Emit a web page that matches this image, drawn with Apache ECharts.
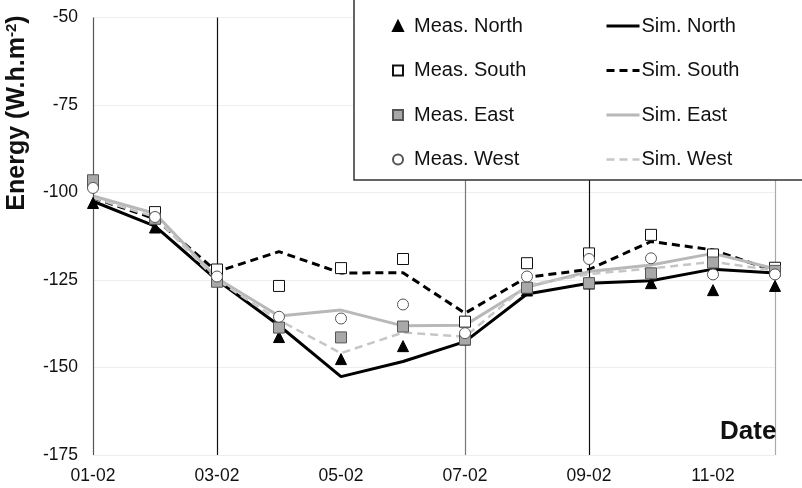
<!DOCTYPE html>
<html><head><meta charset="utf-8">
<script src="https://cdn.jsdelivr.net/npm/echarts@6/dist/echarts.min.js"></script>
<style>html,body{margin:0;padding:0;background:#fff}#c{width:802px;height:488px}</style>
</head><body><div id="c"></div>
<script>
var categories = ['01-02','02-02','03-02','04-02','05-02','06-02','07-02','08-02','09-02','10-02','11-02','12-02'];
var yTicks = [-175, -150, -125, -100, -75, -50];
var measNorth = [-103, -110, -125, -141.3, -147.6, -143.9, -142, -128, -126, -125.9, -127.9, -126.7];
var measSouth = [-97, -105.6, -122, -126.7, -121.6, -119, -136.9, -120.2, -117.4, -112.1, -117.7, -121.5];
var measEast  = [-96.5, -107.5, -125.5, -138.6, -141.4, -138.3, -142, -127.2, -125.9, -123.1, -120, -122.4];
var measWest  = [-98.7, -107, -124, -135.5, -136, -132, -140.2, -124, -119, -118.8, -123.4, -123.4];
var simNorth  = [-102.5, -109.6, -125, -138, -152.6, -148.3, -142.6, -129, -125.9, -125.2, -121.9, -123];
var simSouth  = [-101.5, -107.5, -122.6, -116.9, -123, -122.9, -134.5, -124.2, -122, -114, -116.4, -122.5];
var simEast   = [-101, -106, -124.5, -135.3, -133.6, -138.1, -137.9, -127, -122.6, -120.7, -117.4, -121.8];
var simWest   = [-101.5, -107, -125, -136.5, -145.9, -140, -141.2, -126.5, -123.3, -121.7, -119.8, -122.3];
var vLines = ['01-02','03-02','07-02','09-02','12-02'];
var vLineColors = ['#555','#111','#777','#111','#aaa'];

var font = 'Liberation Sans, Arial, sans-serif';
var chart = echarts.init(document.getElementById('c'), null, {renderer:'canvas'});
function sim(name, data, color, type, width){
  return {name:name, type:'line', data:data, symbol:'none', z:3,
    lineStyle:{color:color, width:width, type:type}, itemStyle:{color:color}};
}
function meas(name, data, symbol, fill, border, size){
  return {name:name, type:'scatter', data:data, symbol:symbol, symbolSize:size, z:5,
    itemStyle:{color:fill, borderColor:border, borderWidth:1, opacity:1}};
}
var option = {
  animation:false,
  backgroundColor:'#fff',
  grid:{left:93, right:27, top:17.5, bottom:33},
  xAxis:{type:'category', data:categories, boundaryGap:false,
    axisLine:{show:false}, axisTick:{show:false},
    axisLabel:{interval:1, color:'#111', fontSize:17.5, fontFamily:font, margin:12},
    splitLine:{show:false}},
  yAxis:{type:'value', min:yTicks[0], max:yTicks[yTicks.length-1], interval:25,
    axisLine:{show:false}, axisTick:{show:false},
    axisLabel:{color:'#111', fontSize:17.5, fontFamily:font, margin:15},
    splitLine:{lineStyle:{color:'#eeeeee', width:1}}},
  legend:[
    {data:['Meas. North','Meas. South','Meas. East','Meas. West'], orient:'vertical',
     left:387, top:10, itemWidth:10, itemHeight:10, itemGap:22.5, z:10,
     textStyle:{fontSize:20, fontFamily:font, color:'#111', lineHeight:22, padding:[0,0,0,6]}},
    {data:[{name:'Sim. North', lineStyle:{width:3}},
           {name:'Sim. South', lineStyle:{width:3}},
           {name:'Sim. East', lineStyle:{width:3}},
           {name:'Sim. West', lineStyle:{width:2.5}}], orient:'vertical',
     left:600, top:10, itemWidth:33, itemHeight:14, itemGap:22.5, z:10,
     itemStyle:{opacity:0},
     textStyle:{fontSize:20, fontFamily:font, color:'#111', lineHeight:22, padding:[0,0,0,-3]}}
  ],
  graphic:[
    {type:'rect', z:8, shape:{x:354, y:-5, width:460, height:185},
     style:{fill:'#fff', stroke:'#333', lineWidth:1.5}},
    {type:'text', z:8, x:17, y:113, rotation:Math.PI/2,
     style:{text:'Energy (W.h.m{s|-2})', fontSize:25, fontWeight:'bold', fontFamily:font, fill:'#111',
       align:'center', verticalAlign:'middle',
       rich:{s:{fontSize:15, fontWeight:'bold', fontFamily:font, fill:'#111', verticalAlign:'top', lineHeight:25}}}},
    {type:'text', z:8, x:720, y:419,
     style:{text:'Date', fontSize:26, fontWeight:'bold', fontFamily:font, fill:'#111'}}
  ],
  series:[
    {type:'line', data:[], silent:true, z:1,
     markLine:{silent:true, symbol:'none', label:{show:false},
       data:vLines.map(function(v,i){return {xAxis:v, lineStyle:{color:vLineColors[i], width:1.2, type:'solid'}};})}},
    sim('Sim. North', simNorth, '#000', 'solid', 3),
    sim('Sim. South', simSouth, '#000', [8,5], 3),
    sim('Sim. East', simEast, '#b8b8b8', 'solid', 3),
    sim('Sim. West', simWest, '#c6c6c6', [8,5], 2.5),
    meas('Meas. North', measNorth, 'triangle', '#000', '#000', 11),
    meas('Meas. South', measSouth, 'rect', '#fff', '#111', 11),
    meas('Meas. East', measEast, 'rect', '#a8a8a8', '#555', 11),
    meas('Meas. West', measWest, 'circle', '#fff', '#555', 11)
  ]
};
chart.setOption(option);
</script></body></html>
